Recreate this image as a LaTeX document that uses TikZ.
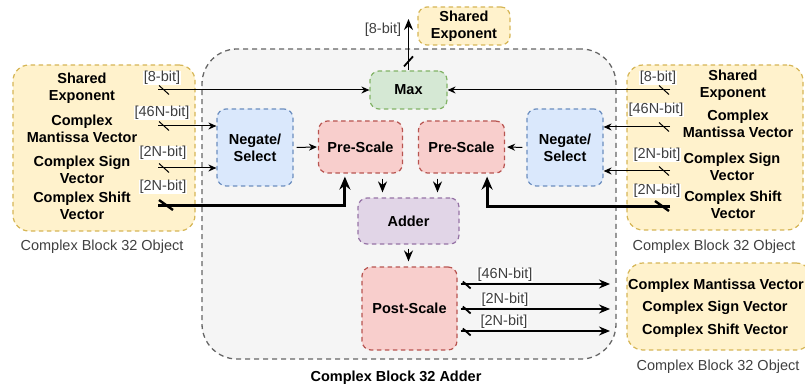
\documentclass[tikz,border=0pt]{standalone}
\usepackage{fontspec}
\setmainfont{Liberation Sans}
\usetikzlibrary{arrows.meta,decorations.markings,calc}

\definecolor{ylwfill}{HTML}{FFF2CC}\definecolor{ylwline}{HTML}{D6B656}
\definecolor{bluefill}{HTML}{DAE8FC}\definecolor{blueline}{HTML}{6C8EBF}
\definecolor{redfill}{HTML}{F8CECC}\definecolor{redline}{HTML}{B85450}
\definecolor{grnfill}{HTML}{D5E8D4}\definecolor{grnline}{HTML}{82B366}
\definecolor{purfill}{HTML}{E1D5E7}\definecolor{purline}{HTML}{9673A6}
\definecolor{boxfill}{HTML}{F5F5F5}\definecolor{boxline}{HTML}{666666}

\tikzset{
  bigfont/.style={font=\fontsize{14.5}{17}\selectfont\bfseries},
  smallfont/.style={font=\fontsize{14.5}{17}\selectfont},
  blk/.style={draw, dash pattern=on 4.5pt off 3.5pt, line width=1.2pt,
    rounded corners=9pt, bigfont, align=center, inner sep=0pt},
  yblk/.style={blk, fill=ylwfill, draw=ylwline, rounded corners=16pt},
  txt/.style={bigfont, align=center, inner sep=0pt},
  caption/.style={smallfont, text=black!75, inner sep=0pt},
  buslbl/.style={smallfont, text=black!75, fill=white, inner sep=0.6pt},
  % bus-width tick across a line, at a distance from its start
  busmark/.style={postaction={decorate, decoration={markings,
    mark=at position #1 with {\draw[solid,-] (-5pt,4.5pt) -- (5pt,-4.5pt);}}}},
  busmark/.default=6pt,
  fatmark/.style={postaction={decorate, decoration={markings,
    mark=at position 8pt with {\draw[solid,-,line width=2.4pt] (-7pt,5pt) -- (7pt,-5pt);}}}},
  thinarr/.style={line width=1pt, -{Stealth[length=8pt,width=7pt]}},
  medarr/.style={line width=1.8pt, -{Stealth[length=11pt,width=9pt]}},
  fatarr/.style={line width=3pt, -{Stealth[length=13pt,width=11pt]}}
}

\begin{document}
\begin{tikzpicture}[x=1pt,y=-1pt]
\clip (0,0) rectangle (805,390);

% outer adder block
\node[draw=boxline, fill=boxfill, dash pattern=on 5pt off 4pt, line width=1.3pt,
      rounded corners=35pt, minimum width=414pt, minimum height=310pt, inner sep=0pt]
      (adderbox) at (409,204) {};
\node[txt] (addername) at (396,378) {Complex Block 32 Adder};

% operand and result objects
\node[yblk, minimum width=182pt, minimum height=166pt] (lobj) at (104,148) {};
\node[yblk, minimum width=176pt, minimum height=165pt] (robj) at (715,147.5) {};
\node[yblk, minimum width=185pt, minimum height=87pt] (oobj) at (719.5,306.5) {};
\node[yblk, rounded corners=9pt, minimum width=92pt, minimum height=38pt] (shexp) at (464,26)
      {Shared\\Exponent};

\node[caption] (lcap) at (102,247) {Complex Block 32 Object};
\node[caption] (rcap) at (714,247) {Complex Block 32 Object};
\node[caption] (ocap) at (718,367) {Complex Block 32 Object};

% fields of the left operand
\node[txt] (lf1) at (82,88.5) {Shared\\Exponent};
\node[txt] (lf2) at (82,128.5) {Complex\\Mantissa Vector};
\node[txt] (lf3) at (82,169.5) {Complex Sign\\Vector};
\node[txt] (lf4) at (82,205.5) {Complex Shift\\Vector};

% fields of the right operand
\node[txt] (rf1) at (733,85) {Shared\\Exponent};
\node[txt] (rf2) at (738,124) {Complex\\Mantissa Vector};
\node[txt] (rf3) at (732,167) {Complex Sign\\Vector};
\node[txt] (rf4) at (733,205) {Complex Shift\\Vector};

% fields of the result
\node[txt] (of1) at (716,286) {Complex Mantissa Vector};
\node[txt] (of2) at (715,308) {Complex Sign Vector};
\node[txt] (of3) at (715,331) {Complex Shift Vector};

% processing stages
\node[blk, fill=grnfill, draw=grnline, minimum width=77pt, minimum height=38pt] (mx) at (408.5,90) {Max};
\node[blk, fill=bluefill, draw=blueline, minimum width=76pt, minimum height=77pt] (lneg) at (255,147.5) {Negate/\\Select};
\node[blk, fill=bluefill, draw=blueline, minimum width=76pt, minimum height=77pt] (rneg) at (565,147.5) {Negate/\\Select};
\node[blk, fill=redfill, draw=redline, minimum width=84pt, minimum height=52pt] (lpre) at (360.5,147) {Pre-Scale};
\node[blk, fill=redfill, draw=redline, minimum width=86pt, minimum height=52pt] (rpre) at (461.5,147) {Pre-Scale};
\node[blk, fill=purfill, draw=purline, minimum width=101pt, minimum height=46pt] (adder) at (408.5,221) {Adder};
\node[blk, fill=redfill, draw=redline, minimum width=95pt, minimum height=83pt] (post) at (409.5,308.5) {Post-Scale};

% free ends of the buses
\coordinate (l8)  at (158,90);
\coordinate (l46) at (158,126);
\coordinate (l2s) at (158,168);
\coordinate (lsh) at (158,205);
\coordinate (r8)  at (670,90);
\coordinate (r46) at (670,127);
\coordinate (r2s) at (670,171);
\coordinate (rsh) at (670,206);
\coordinate (expout) at (408.5,19);
\coordinate (o46) at (610,284);
\coordinate (o2s) at (610,309);
\coordinate (o2h) at (610,331);

% left operand buses
\draw[thinarr, busmark] (l8) -- (mx.west);
\draw[thinarr, busmark] (l46) -- (l46 -| lneg.west);
\draw[thinarr, busmark] (l2s) -- (l2s -| lneg.west);
\draw[fatarr, fatmark] (lsh) -| ([xshift=27pt,yshift=-3pt]lpre.south west);

% right operand buses
\draw[thinarr, busmark] (r8) -- (mx.east);
\draw[thinarr, busmark] (r46) -- (r46 -| rneg.east);
\draw[thinarr, busmark] (r2s) -- (r2s -| rneg.east);
\draw[fatarr, fatmark] (rsh) -| ([xshift=-18pt,yshift=-3pt]rpre.south east);

% internal flow
\draw[thinarr, shorten <=3pt, shorten >=1pt] (lneg.east) -- (lpre.west);
\draw[thinarr, shorten <=4pt, shorten >=2pt] (rneg.west) -- (rpre.east);
\draw[medarr, line width=1.5pt, shorten <=5pt, shorten >=5pt]
  ([xshift=22pt]lpre.south) -- ([xshift=22pt]lpre.south |- adder.north);
\draw[medarr, line width=1.5pt, shorten <=5pt, shorten >=5pt]
  ([xshift=-24pt]rpre.south) -- ([xshift=-24pt]rpre.south |- adder.north);
\draw[medarr, line width=1.5pt, shorten <=4pt, shorten >=5pt] (adder.south) -- (adder.south |- post.north);
\draw[medarr, busmark=9pt] (mx.north) -- (expout);

% result buses
\draw[medarr, busmark=8pt, shorten <=3pt] (post.east |- o46) -- (o46);
\draw[medarr, busmark=8pt, shorten <=3pt] (post.east |- o2s) -- (o2s);
\draw[medarr, busmark=8pt, shorten <=3pt] (post.east |- o2h) -- (o2h);

% bus width labels
\node[buslbl] (bl1) at (162,78) {[8-bit]};
\node[buslbl] (bl2) at (162,113) {[46N-bit]};
\node[buslbl] (bl3) at (163,153) {[2N-bit]};
\node[buslbl] (bl4) at (163,187) {[2N-bit]};
\node[buslbl] (br1) at (658,78) {[8-bit]};
\node[buslbl] (br2) at (656,110) {[46N-bit]};
\node[buslbl] (br3) at (657,155) {[2N-bit]};
\node[buslbl] (br4) at (657,191) {[2N-bit]};
\node[buslbl] (bt)  at (383,30) {[8-bit]};
\node[buslbl] (bo1) at (505,275) {[46N-bit]};
\node[buslbl] (bo2) at (505,300) {[2N-bit]};
\node[buslbl] (bo3) at (504,322) {[2N-bit]};
\end{tikzpicture}
\end{document}
